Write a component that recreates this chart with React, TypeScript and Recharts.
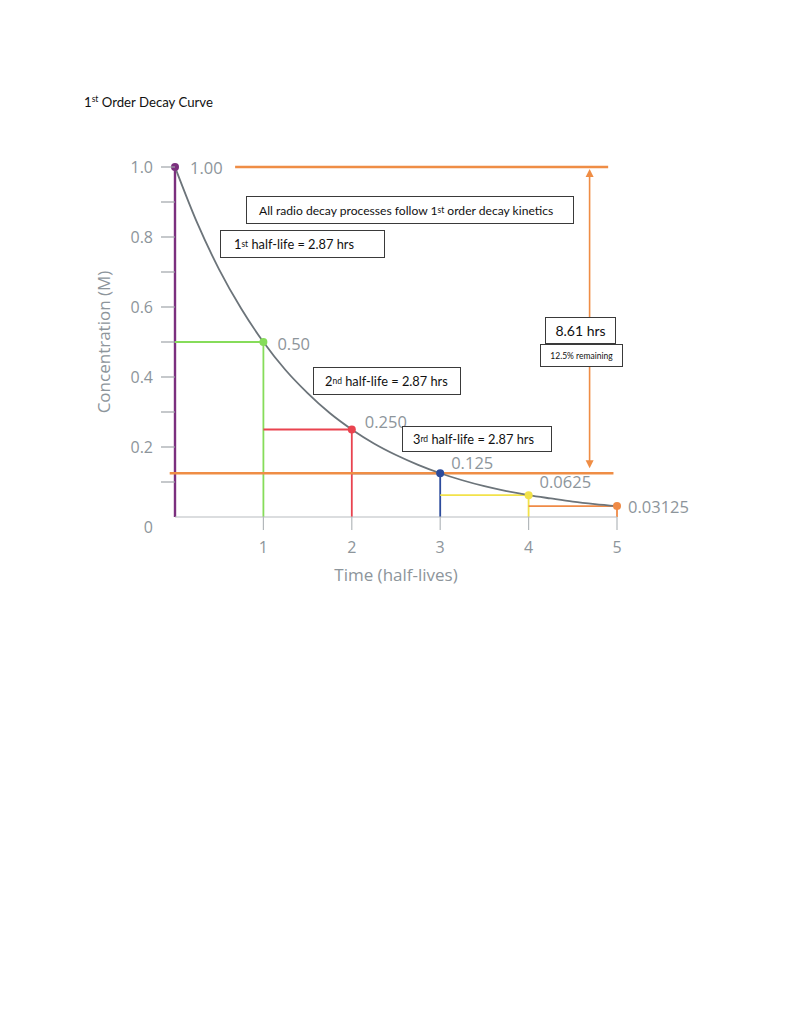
import React from 'react';
import { ComposedChart, Line, XAxis, YAxis, ReferenceLine, ReferenceDot, Label } from 'recharts';

// curve, every quarter half-life
const halfLives = [0, 0.25, 0.5, 0.75, 1, 1.25, 1.5, 1.75, 2, 2.25, 2.5, 2.75, 3, 3.25, 3.5, 3.75, 4, 4.25, 4.5, 4.75, 5];
const concentration = [1.0, 0.841, 0.707, 0.595, 0.5, 0.42, 0.354, 0.297, 0.25, 0.21, 0.177, 0.149, 0.125, 0.105, 0.088, 0.074, 0.0625, 0.053, 0.044, 0.037, 0.03125];

const markerTimes = [0, 1, 2, 3, 4, 5];
const markerValues = [1.0, 0.5, 0.25, 0.125, 0.0625, 0.03125];
const markerLabels = ['1.00', '0.50', '0.250', '0.125', '0.0625', '0.03125'];

const yTicks = [0, 0.1, 0.2, 0.3, 0.4, 0.5, 0.6, 0.7, 0.8, 0.9, 1.0];
const yTickLabels = ['0', '', '0.2', '', '0.4', '', '0.6', '', '0.8', '', '1.0'];
const xTicks = [1, 2, 3, 4, 5];
const xTickLabels = ['1', '2', '3', '4', '5'];

const remainingLevel = 0.125;

const markerColors = ['#7b2f7e', '#86dc5a', '#e9434f', '#2c4b9c', '#f2e24a', '#ef8a46'];
const labelOffsets = [[15, 0], [14, 1], [13, -8], [11, -11], [11, -14], [11, 0]];

const ORANGE = '#ef8d45';
const GRAY_TEXT = '#8d959b';
const LABEL_FONT = '"Open Sans", sans-serif';
const BOX_FONT = 'Lato, sans-serif';

const curveData = halfLives.map((t, i) => ({ t, c: concentration[i] }));

const YTick = (props: any) => {
  const { x, y, payload } = props;
  const i = yTicks.indexOf(payload.value);
  const text = yTickLabels[i] || '';
  if (payload.value === 0) {
    return (
      <text x={x - 22} y={y + 10} textAnchor="end" dominantBaseline="central" fill={GRAY_TEXT} fontSize={16} fontFamily={LABEL_FONT}>
        {text}
      </text>
    );
  }
  return (
    <g>
      <line x1={x - 14} x2={x} y1={y} y2={y} stroke="#9ea4a8" strokeWidth={1.2} />
      {text && (
        <text x={x - 22} y={y} textAnchor="end" dominantBaseline="central" fill={GRAY_TEXT} fontSize={16} fontFamily={LABEL_FONT}>
          {text}
        </text>
      )}
    </g>
  );
};

const XTick = (props: any) => {
  const { x, y, payload } = props;
  const i = xTicks.indexOf(payload.value);
  return (
    <g>
      <line x1={x} x2={x} y1={y} y2={y + 13} stroke="#b3b8bb" strokeWidth={1.2} />
      <text x={x} y={y + 30} textAnchor="middle" dominantBaseline="central" fill={GRAY_TEXT} fontSize={16} fontFamily={LABEL_FONT}>
        {xTickLabels[i]}
      </text>
    </g>
  );
};

const DoubleArrow = (props: any) => {
  const { x1, y1, x2, y2 } = props;
  const top = Math.min(y1, y2) + 2;
  const bottom = Math.max(y1, y2) - 5;
  return (
    <g>
      <line x1={x1} x2={x2} y1={top + 6} y2={bottom - 6} stroke={ORANGE} strokeWidth={1.6} />
      <path d={`M${x1} ${top} L${x1 - 4} ${top + 8} L${x1 + 4} ${top + 8} Z`} fill={ORANGE} />
      <path d={`M${x1} ${bottom} L${x1 - 4} ${bottom - 8} L${x1 + 4} ${bottom - 8} Z`} fill={ORANGE} />
    </g>
  );
};

const boxStyle: React.CSSProperties = {
  position: 'absolute',
  border: '1px solid #3a3a3a',
  background: '#fff',
  fontFamily: BOX_FONT,
  fontSize: 12.8,
  color: '#111',
  boxSizing: 'border-box',
  display: 'flex',
  alignItems: 'center',
  whiteSpace: 'nowrap',
};

const sup: React.CSSProperties = { fontSize: 8.5, verticalAlign: 'super', lineHeight: 0 };

const App: React.FC = () => {
  return (
    <div style={{ position: 'absolute', left: 0, top: 0, width: 800, height: 1035, background: '#fff' }}>
      <div style={{ position: 'absolute', left: 84, top: 94, fontFamily: BOX_FONT, fontSize: 13.2, color: '#111', whiteSpace: 'nowrap' }}>
        1<span style={sup}>st</span> Order Decay Curve
      </div>

      <div style={{ position: 'absolute', left: 0, top: 0 }}>
        <ComposedChart width={800} height={1035} data={curveData} margin={{ top: 167, right: 183, bottom: 448, left: 95 }}>
          <XAxis
            dataKey="t"
            type="number"
            domain={[0, 5]}
            ticks={xTicks}
            height={70}
            tickSize={0}
            tickMargin={0}
            tickLine={false}
            axisLine={{ stroke: '#b8bcbf', strokeWidth: 1.2 }}
            tick={<XTick />}
            interval={0}
          >
            <Label value="Time (half-lives)" position="insideBottom" offset={6} fill={GRAY_TEXT} fontSize={17} fontFamily={LABEL_FONT} />
          </XAxis>
          <YAxis
            type="number"
            domain={[0, 1]}
            ticks={yTicks}
            width={80}
            tickSize={0}
            tickMargin={0}
            tickLine={false}
            axisLine={false}
            tick={<YTick />}
            interval={0}
          >
            <Label value="Concentration (M)" angle={-90} position="insideLeft" offset={9} fill={GRAY_TEXT} fontSize={17} fontFamily={LABEL_FONT} style={{ textAnchor: 'middle' }} />
          </YAxis>

          {/* half-life guide lines */}
          {markerTimes.map((t, i) => (
            <ReferenceLine
              key={`v${i}`}
              segment={[{ x: t, y: 0 }, { x: t, y: markerValues[i] }]}
              stroke={markerColors[i]}
              strokeWidth={i === 0 ? 2.4 : 1.8}
              ifOverflow="visible"
            />
          ))}
          {markerTimes.slice(1).map((t, i) => (
            <ReferenceLine
              key={`h${i}`}
              segment={[{ x: markerTimes[i], y: markerValues[i + 1] }, { x: t, y: markerValues[i + 1] }]}
              stroke={markerColors[i + 1]}
              strokeWidth={1.8}
              ifOverflow="visible"
            />
          ))}

          {/* orange brackets: 100% down to 12.5% */}
          <ReferenceLine segment={[{ x: 0.68, y: 1 }, { x: 4.9, y: 1 }]} stroke={ORANGE} strokeWidth={2.6} ifOverflow="visible" />
          <ReferenceLine segment={[{ x: -0.06, y: remainingLevel }, { x: 4.96, y: remainingLevel }]} stroke={ORANGE} strokeWidth={2.6} ifOverflow="visible" />
          <ReferenceLine segment={[{ x: 4.69, y: 1 }, { x: 4.69, y: remainingLevel }]} shape={<DoubleArrow />} ifOverflow="visible" />

          <Line type="monotone" dataKey="c" stroke="#6c747a" strokeWidth={1.8} dot={false} isAnimationActive={false} />

          {markerTimes.map((t, i) => (
            <ReferenceDot
              key={`d${i}`}
              x={t}
              y={markerValues[i]}
              r={4}
              ifOverflow="visible"
              shape={(p: any) => (
                <g>
                  <circle cx={p.cx} cy={p.cy} r={4} fill={markerColors[i]} />
                  <text
                    x={p.cx + labelOffsets[i][0]}
                    y={p.cy + labelOffsets[i][1]}
                    dominantBaseline="central"
                    fill={GRAY_TEXT}
                    fontSize={16.5}
                    fontFamily={LABEL_FONT}
                  >
                    {markerLabels[i]}
                  </text>
                </g>
              )}
            />
          ))}
        </ComposedChart>
      </div>

      <div style={{ ...boxStyle, left: 246, top: 196, width: 328, height: 28, paddingLeft: 12, fontSize: 12.1 }}>
        All radio decay processes follow 1<span style={sup}>st</span>&nbsp;order decay kinetics
      </div>
      <div style={{ ...boxStyle, left: 220, top: 230, width: 165, height: 28, paddingLeft: 13 }}>
        1<span style={sup}>st</span>&nbsp;half-life = 2.87 hrs
      </div>
      <div style={{ ...boxStyle, left: 313, top: 367, width: 148, height: 28, paddingLeft: 11 }}>
        2<span style={sup}>nd</span>&nbsp;half-life = 2.87 hrs
      </div>
      <div style={{ ...boxStyle, left: 402, top: 426, width: 150, height: 26, paddingLeft: 10 }}>
        3<span style={sup}>rd</span>&nbsp;half-life = 2.87 hrs
      </div>
      <div style={{ ...boxStyle, left: 545, top: 317, width: 71, height: 27, justifyContent: 'center', fontSize: 14 }}>
        8.61 hrs
      </div>
      <div style={{ ...boxStyle, left: 540, top: 344, width: 83, height: 23, justifyContent: 'center', fontSize: 8.5 }}>
        12.5% remaining
      </div>
    </div>
  );
};

export default App;
